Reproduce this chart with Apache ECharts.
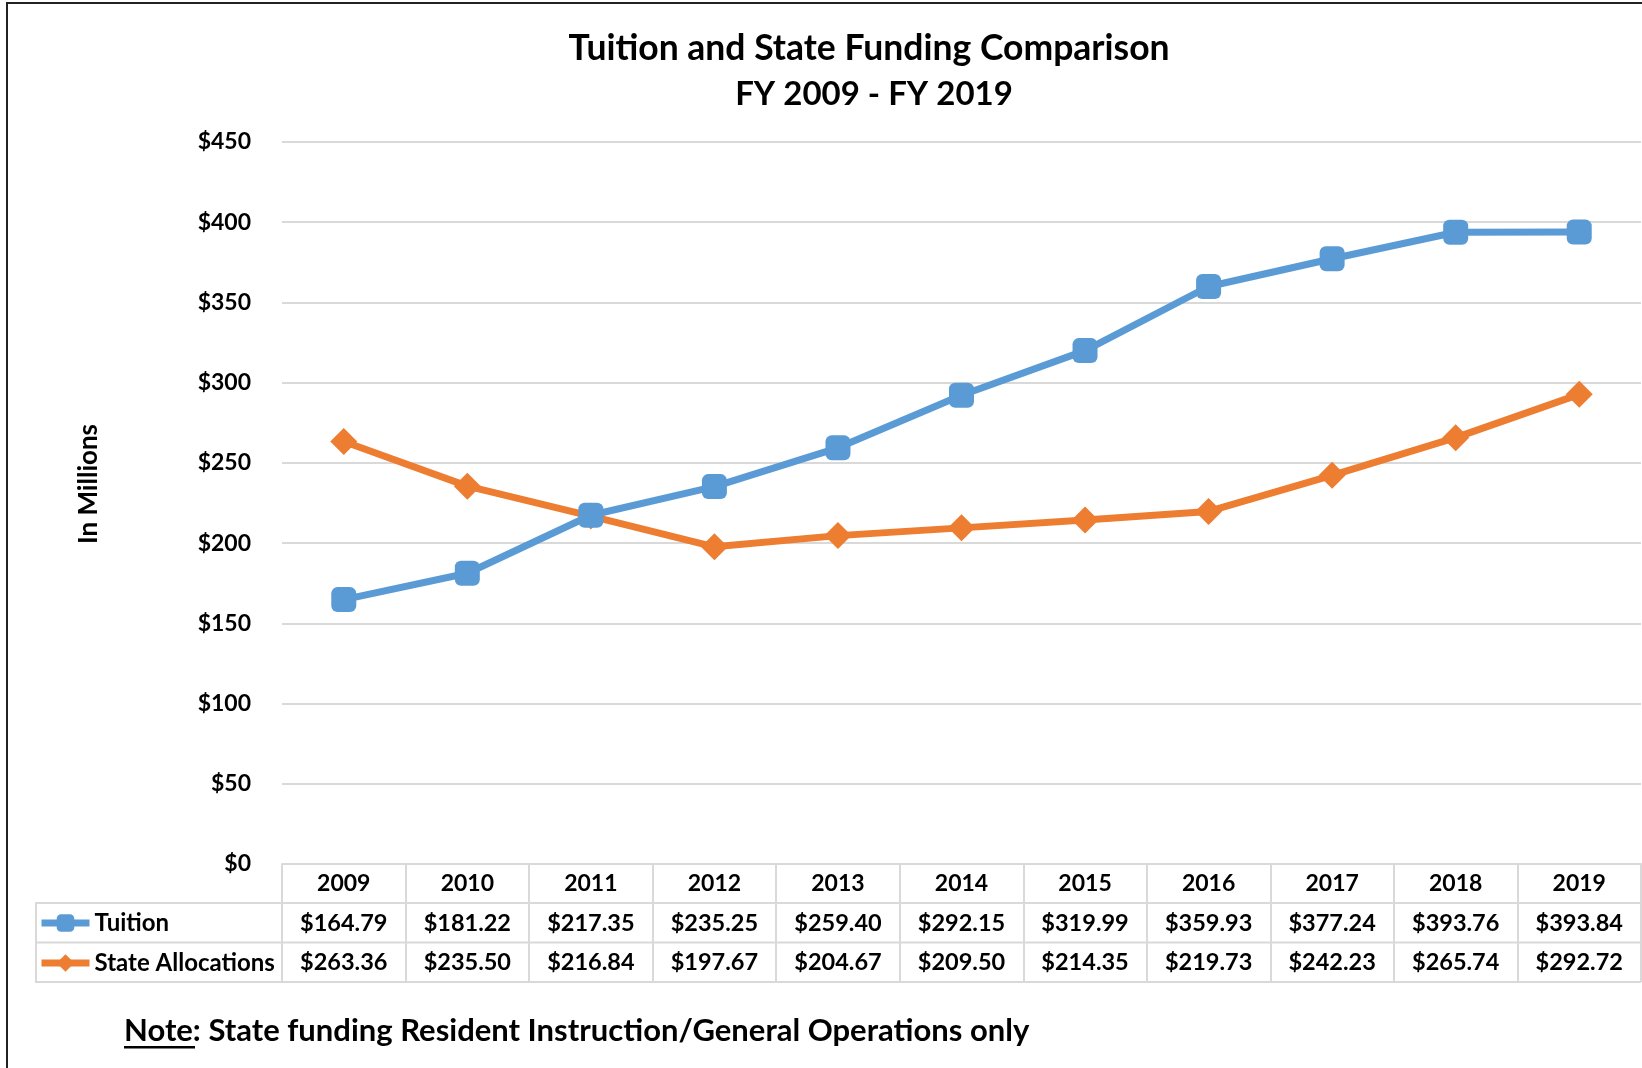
<!DOCTYPE html>
<html>
<head>
<meta charset="utf-8">
<script src="https://cdn.jsdelivr.net/npm/echarts@6/dist/echarts.min.js"></script>
<style>
html,body{margin:0;padding:0;background:#fff;}
#chart{width:1642px;height:1068px;}
</style>
</head>
<body>
<div id="chart"></div>
<script>
const years = ['2009','2010','2011','2012','2013','2014','2015','2016','2017','2018','2019'];
const tuition = [164.79,181.22,217.35,235.25,259.40,292.15,319.99,359.93,377.24,393.76,393.84];
const stateAlloc = [263.36,235.50,216.84,197.67,204.67,209.50,214.35,219.73,242.23,265.74,292.72];
const yTicks = {min:0, max:450, interval:50};

const FONT = 'Lato';
const GRID_COLOR = '#d9d9d9';
const BLUE = '#5B9BD5';
const ORANGE = '#ED7D31';
const fmt = v => '$' + v.toFixed(2);

const chart = echarts.init(document.getElementById('chart'), null, {renderer:'canvas'});
const legendCommon = {orient:'vertical', left:38, padding:0,
  itemWidth:48, itemHeight:22, itemGap:0, lineStyle:{width:7},
  textStyle:{fontFamily:FONT, fontWeight:'bold', fontSize:24, color:'#000'}};
const option = {
  backgroundColor:'#fff',
  animation:false,
  textStyle:{fontFamily:FONT},
  title:[
    {text:'Tuition and State Funding Comparison', left:864, top:26, textAlign:'center',
     textStyle:{fontFamily:FONT, fontWeight:'bold', fontSize:35.5, color:'#000'}},
    {text:'FY 2009 - FY 2019', left:869, top:73, textAlign:'center',
     textStyle:{fontFamily:FONT, fontWeight:'bold', fontSize:33, color:'#000'}}
  ],
  grid:{left:282, right:1, top:142, bottom:204, containLabel:false},
  legend:[
    Object.assign({data:['Tuition'], top:911}, legendCommon),
    Object.assign({data:['State Allocations'], top:951}, legendCommon)
  ],
  xAxis:{
    type:'category', data:years, boundaryGap:true,
    axisLine:{show:true, lineStyle:{color:GRID_COLOR, width:2}},
    axisTick:{show:true, interval:0, length:118, lineStyle:{color:GRID_COLOR, width:2}},
    axisLabel:{
      interval:0, margin:0,
      formatter:(v, i) => '{y|' + v + '}\n{v|' + fmt(tuition[i]) + '}\n{v|' + fmt(stateAlloc[i]) + '}',
      rich:{
        y:{fontFamily:FONT, fontWeight:'bold', fontSize:23, color:'#000', lineHeight:39.5},
        v:{fontFamily:FONT, fontWeight:'bold', fontSize:23.5, color:'#000', lineHeight:39.5}
      }
    }
  },
  yAxis:{
    type:'value', min:yTicks.min, max:yTicks.max, interval:yTicks.interval,
    axisLine:{show:false}, axisTick:{show:false},
    splitLine:{show:true, lineStyle:{color:GRID_COLOR, width:2}},
    axisLabel:{margin:31, formatter:v => '$' + v,
      fontFamily:FONT, fontWeight:'bold', fontSize:23, color:'#000'}
  },
  series:[
    {name:'Tuition', type:'line', data:tuition, symbol:'roundRect', symbolSize:25,
     lineStyle:{color:BLUE, width:7}, itemStyle:{color:BLUE}, z:3},
    {name:'State Allocations', type:'line', data:stateAlloc, symbol:'diamond', symbolSize:[27,27],
     lineStyle:{color:ORANGE, width:7}, itemStyle:{color:ORANGE}, z:2}
  ],
  graphic:[
    {type:'rect', shape:{x:7, y:3, width:1700, height:1200}, style:{fill:'none', stroke:'#222', lineWidth:2}, silent:true, z:-1},
    {type:'line', shape:{x1:36, y1:903, x2:1641, y2:903}, style:{stroke:GRID_COLOR, lineWidth:2}, silent:true},
    {type:'line', shape:{x1:36, y1:942.5, x2:1641, y2:942.5}, style:{stroke:GRID_COLOR, lineWidth:2}, silent:true},
    {type:'line', shape:{x1:36, y1:982, x2:1641, y2:982}, style:{stroke:GRID_COLOR, lineWidth:2}, silent:true},
    {type:'line', shape:{x1:36, y1:902, x2:36, y2:983}, style:{stroke:GRID_COLOR, lineWidth:2}, silent:true},
    {type:'text', x:89, y:484, rotation:Math.PI/2,
     style:{text:'In Millions', align:'center', verticalAlign:'middle', fontFamily:FONT, fontWeight:'bold', fontSize:26, fill:'#000'}},
    {type:'text', x:124, y:1031,
     style:{text:'Note: State funding Resident Instruction/General Operations only', align:'left', verticalAlign:'middle', fontFamily:FONT, fontWeight:'bold', fontSize:31, fill:'#000'}},
    {type:'rect', shape:{x:124, y:1046, width:71, height:2.5}, style:{fill:'#000'}, silent:true}
  ]
};
chart.setOption(option);
</script>
</body>
</html>
